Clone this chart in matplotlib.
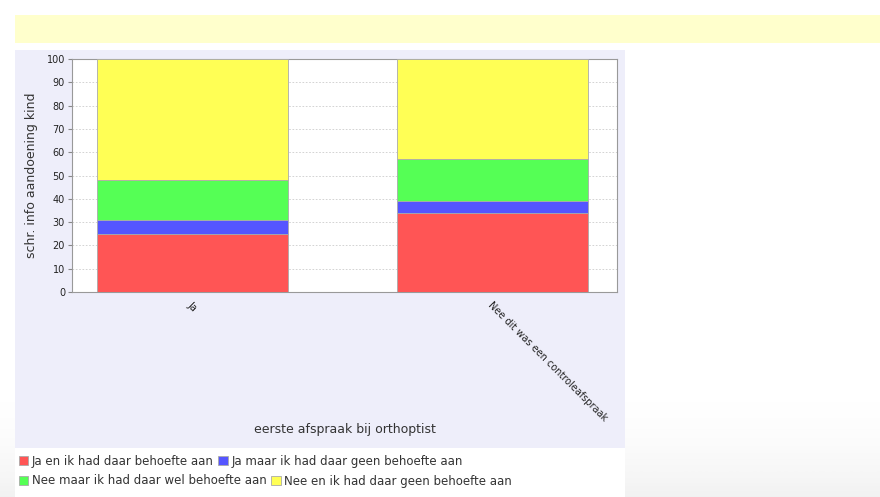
import numpy as np
import matplotlib
matplotlib.use('Agg')
import matplotlib.pyplot as plt
from matplotlib.patches import Rectangle

categories = ['Ja', 'Nee dit was een controleafspraak']
series_names = ['Ja en ik had daar behoefte aan',
                'Ja maar ik had daar geen behoefte aan',
                'Nee maar ik had daar wel behoefte aan',
                'Nee en ik had daar geen behoefte aan']
ja_en = [25, 34]
ja_maar = [6, 5]
nee_maar = [17, 18]
nee_en = [52, 43]
colors = ['#ff5555', '#5555ff', '#55ff55', '#ffff55']

W, H = 880, 497
fig = plt.figure(figsize=(W / 100, H / 100), dpi=100)


def fx(x):
    return x / W


def fy(y):
    return 1 - y / H


# bottom grey fade
bg = fig.add_axes([0, 0, 1, fy(380)], zorder=-10)
grad = np.linspace(0, 1, 100)[:, None] ** 2
bg.imshow(grad, aspect='auto', cmap='Greys', vmin=0, vmax=9, extent=[0, 1, 0, 1], origin='upper')
bg.set_axis_off()

# yellow band on top
fig.patches.append(Rectangle((fx(15), fy(43)), fx(865), 28 / H, transform=fig.transFigure,
                             facecolor='#ffffcc', edgecolor='none', zorder=-5))
# chart panel
fig.patches.append(Rectangle((fx(15), fy(448)), fx(610), 398 / H, transform=fig.transFigure,
                             facecolor='#eeeefa', edgecolor='none', zorder=-5))
# legend area
fig.patches.append(Rectangle((fx(15), 0), fx(610), fy(448), transform=fig.transFigure,
                             facecolor='white', edgecolor='none', zorder=-5))

ax = fig.add_axes([fx(72), fy(292), 545 / W, 233 / H])
ax.set_facecolor('white')

x = np.arange(len(categories))
width = 0.636
bottom = np.zeros(len(categories))
handles = []
for vals, name, c in zip([ja_en, ja_maar, nee_maar, nee_en], series_names, colors):
    b = ax.bar(x, vals, width, bottom=bottom, color=c, edgecolor='#aaaaaa', linewidth=0.6,
               label=name, zorder=3)
    handles.append(b)
    bottom += np.array(vals)

ax.set_xlim(-0.401, 1.413)
ax.set_ylim(0, 100)
ax.set_yticks(range(0, 101, 10))
ax.yaxis.grid(True, linestyle=(0, (2, 2)), color='#cccccc', linewidth=0.6, zorder=0)
for s in ax.spines.values():
    s.set_color('#999999')
    s.set_linewidth(0.8)
ax.tick_params(axis='y', labelsize=7, length=3, color='#888888', pad=2, labelcolor='#222222')
ax.tick_params(axis='x', length=0, pad=6)
ax.set_xticks(x)
ax.set_xticklabels(categories, rotation=-45, ha='left', va='top', rotation_mode='anchor',
                   fontsize=7, color='#222222')
ax.set_ylabel('schr. info aandoening kind', fontsize=9, color='#333333', labelpad=6)
fig.text(fx(345), fy(430), 'eerste afspraak bij orthoptist', fontsize=9, color='#333333',
         ha='center', va='center')

fig.legend(handles[:2], series_names[:2], loc='center left', bbox_to_anchor=(fx(13), fy(461)),
           ncol=2, frameon=False, fontsize=8.5, handlelength=0.8, handleheight=0.8,
           handletextpad=0.3, columnspacing=0.4, borderpad=0, labelcolor='#333333')
fig.legend(handles[2:], series_names[2:], loc='center left', bbox_to_anchor=(fx(13), fy(481)),
           ncol=2, frameon=False, fontsize=8.5, handlelength=0.8, handleheight=0.8,
           handletextpad=0.3, columnspacing=0.4, borderpad=0, labelcolor='#333333')

fig.savefig('out.png', dpi=100)
